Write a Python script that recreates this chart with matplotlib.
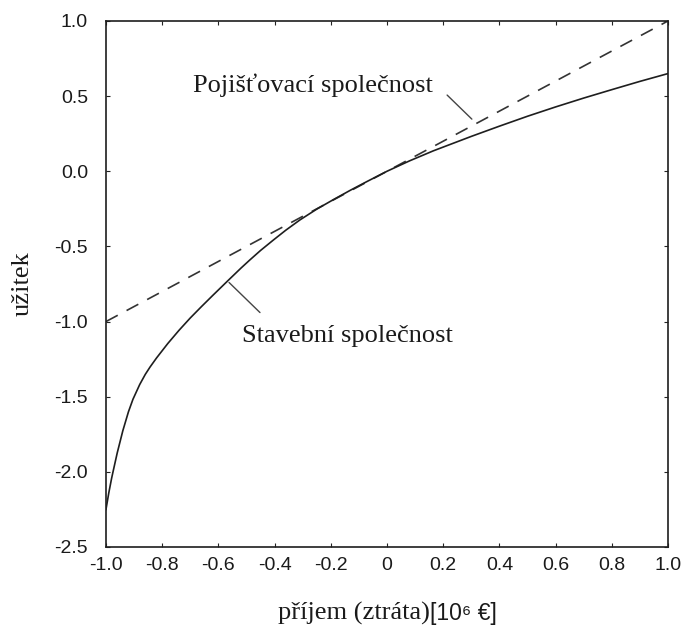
import matplotlib
matplotlib.use("Agg")
import matplotlib.pyplot as plt

# values
curve_x = [-1.0, -0.99, -0.98, -0.975, -0.96, -0.94, -0.92, -0.904, -0.88, -0.86,
           -0.843, -0.82, -0.78, -0.74, -0.70, -0.66, -0.62, -0.565, -0.52, -0.488,
           -0.45, -0.404, -0.36, -0.31, -0.25, -0.191, -0.13, -0.072, 0.0, 0.08,
           0.165, 0.3, 0.4, 0.5, 0.6, 0.7, 0.8, 0.9, 1.0]
curve_y = [-2.25, -2.14, -2.043, -2.0, -1.874, -1.726, -1.60, -1.517, -1.419, -1.351,
           -1.302, -1.242, -1.146, -1.058, -0.976, -0.90, -0.826, -0.726, -0.645, -0.590,
           -0.527, -0.457, -0.392, -0.324, -0.252, -0.189, -0.126, -0.069, 0.0, 0.069,
           0.136, 0.232, 0.30, 0.366, 0.428, 0.487, 0.543, 0.598, 0.65]
line_x = [-1.0, 1.0]
line_y = [-1.0, 1.0]

xticks = [-1.0, -0.8, -0.6, -0.4, -0.2, 0.0, 0.2, 0.4, 0.6, 0.8, 1.0]
xticklabels = ["-1.0", "-0.8", "-0.6", "-0.4", "-0.2", "0", "0.2", "0.4", "0.6", "0.8", "1.0"]
yticks = [-2.5, -2.0, -1.5, -1.0, -0.5, 0.0, 0.5, 1.0]
yticklabels = ["-2.5", "-2.0", "-1.5", "-1.0", "-0.5", "0.0", "0.5", "1.0"]

label_insurer = "Pojišťovací společnost"
label_builder = "Stavební společnost"
xlabel_serif = "příjem (ztráta)"
xlabel_sans = "[10⁶ €]"
ylabel = "užitek"

SERIF = ["Liberation Serif", "DejaVu Serif"]
SANS = ["Liberation Sans", "DejaVu Sans"]
INK = "#1a1a1a"

fig = plt.figure(figsize=(6.9, 6.26), dpi=100)
ax = fig.add_axes([0.1536, 0.1262, 0.8145, 0.8403])

ax.plot(line_x, line_y, color="#333333", lw=1.2, linestyle=(0, (8, 6)))
ax.plot(curve_x, curve_y, color="#1e1e1e", lw=1.2, solid_joinstyle="round")

ax.set_xlim(-1, 1)
ax.set_ylim(-2.5, 1)
ax.set_xticks(xticks)
ax.set_xticklabels(xticklabels, family=SANS, fontsize=14, color=INK)
ax.set_yticks(yticks)
ax.set_yticklabels(yticklabels, family=SANS, fontsize=14, color=INK)
ax.tick_params(direction="in", length=3.2, width=0.8, top=True, right=True, color="#222222")
ax.tick_params(axis="x", pad=7)
ax.tick_params(axis="y", pad=13)
for sp in ax.spines.values():
    sp.set_linewidth(1.2)
    sp.set_color("#1e1e1e")

# annotations with leader lines
ax.text(-0.69, 0.573, label_insurer, family=SERIF, fontsize=19, color=INK,
        ha="left", va="center")
ax.annotate("", xy=(0.302, 0.347), xytext=(0.214, 0.507),
            arrowprops=dict(arrowstyle="-", color="#444444", lw=1.0,
                            shrinkA=0, shrinkB=0))
ax.text(-0.516, -1.093, label_builder, family=SERIF, fontsize=19, color=INK,
        ha="left", va="center")
ax.annotate("", xy=(-0.562, -0.74), xytext=(-0.452, -0.94),
            arrowprops=dict(arrowstyle="-", color="#444444", lw=1.0,
                            shrinkA=0, shrinkB=0))

fig.text(23 / 690, 1 - 284 / 626, ylabel, family=SERIF, fontsize=19, color=INK,
         rotation=90, ha="center", va="center")

# x label: serif part followed by a sans part, centred under the axes
base_y = 1 - 620 / 626
t1 = fig.text(0, base_y, xlabel_serif, family=SERIF, fontsize=19, color=INK,
              ha="left", va="baseline")
t2 = fig.text(0, base_y, xlabel_sans, family=SANS, fontsize=16.5, color=INK,
              ha="left", va="baseline")
r = fig.canvas.get_renderer()
w1 = t1.get_window_extent(r).width / fig.bbox.width
w2 = t2.get_window_extent(r).width / fig.bbox.width
x0 = 387 / 690 - (w1 + w2) / 2
t1.set_x(x0)
t2.set_x(x0 + w1)

fig.savefig("out.png", dpi=100)
